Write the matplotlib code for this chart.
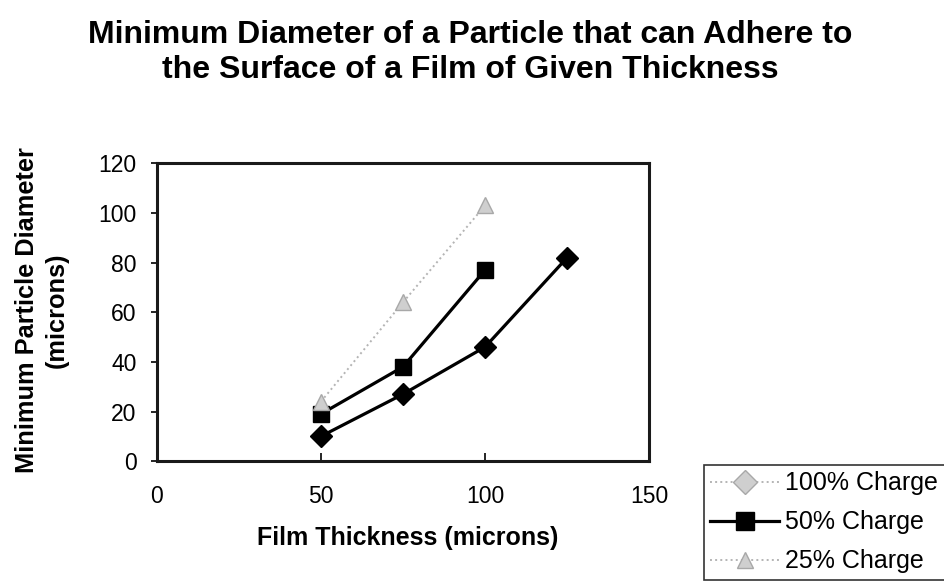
import matplotlib.pyplot as plt
from matplotlib.lines import Line2D

plt.rcParams['font.family'] = ['Liberation Sans', 'DejaVu Sans']

# Data
thickness_100 = [50, 75, 100, 125]
diameter_100 = [10, 27, 46, 82]
thickness_50 = [50, 75, 100]
diameter_50 = [19, 38, 77]
thickness_25 = [50, 75, 100]
diameter_25 = [24, 64, 103]
series_labels = ['100% Charge', '50% Charge', '25% Charge']
x_ticks = [0, 50, 100, 150]
y_ticks = [0, 20, 40, 60, 80, 100, 120]

fig = plt.figure(figsize=(9.45, 5.83), dpi=100)
ax = fig.add_axes([0.166, 0.209, 0.521, 0.511])

ax.plot(thickness_100, diameter_100, color='black', linewidth=2.3,
        marker='D', markersize=11)
ax.plot(thickness_50, diameter_50, color='black', linewidth=2.3,
        marker='s', markersize=12)
ax.plot(thickness_25, diameter_25, color='#b4b4b4', linestyle=':', linewidth=1.4,
        marker='^', markersize=12, markerfacecolor='#cfcfcf', markeredgecolor='#a8a8a8')

ax.set_xlim(0, 150)
ax.set_ylim(0, 120)
ax.set_xticks(x_ticks)
ax.set_yticks(y_ticks)
ax.tick_params(axis='x', direction='in', length=5.5, width=1.2, labelsize=16.5, pad=17)
ax.tick_params(axis='y', direction='out', length=4.5, width=1.2, labelsize=16.5, pad=10)
for s in ax.spines.values():
    s.set_linewidth(2.2)
    s.set_color('#1a1a1a')

fig.text(407.5 / 945, 1 - 538 / 583, 'Film Thickness (microns)', fontsize=18,
         fontweight='bold', ha='center', va='center')
fig.text(41.5 / 945, 1 - 310 / 583, 'Minimum Particle Diameter\n(microns)',
         fontsize=18.3, fontweight='bold', ha='center', va='center',
         rotation=90, multialignment='center', linespacing=1.3)

# baseline here is the second line's baseline
fig.text(470 / 945, 1 - 78 / 583,
         'Minimum Diameter of a Particle that can Adhere to\n'
         'the Surface of a Film of Given Thickness',
         fontsize=23, fontweight='bold', ha='center', va='baseline',
         multialignment='center', linespacing=1.2)

# legend as it appears in the original (box runs off the right edge)
handles = [
    Line2D([], [], color='#b4b4b4', linestyle=':', linewidth=1.4, marker='D',
           markersize=12, markerfacecolor='#cfcfcf', markeredgecolor='#a8a8a8'),
    Line2D([], [], color='black', linewidth=2.3, marker='s', markersize=13),
    Line2D([], [], color='#b4b4b4', linestyle=':', linewidth=1.4, marker='^',
           markersize=12, markerfacecolor='#cfcfcf', markeredgecolor='#a8a8a8'),
]
leg = fig.legend(handles, series_labels, loc='upper left', mode='expand',
                 bbox_to_anchor=(704 / 945, 0.0, 0.3, 1 - 465 / 583), fontsize=18,
                 frameon=True, fancybox=False, edgecolor='black', handlelength=2.75,
                 handletextpad=0.25, borderpad=0.25, labelspacing=0.6,
                 borderaxespad=0)
leg.get_frame().set_linewidth(1.2)

fig.savefig('out.png', dpi=100)
